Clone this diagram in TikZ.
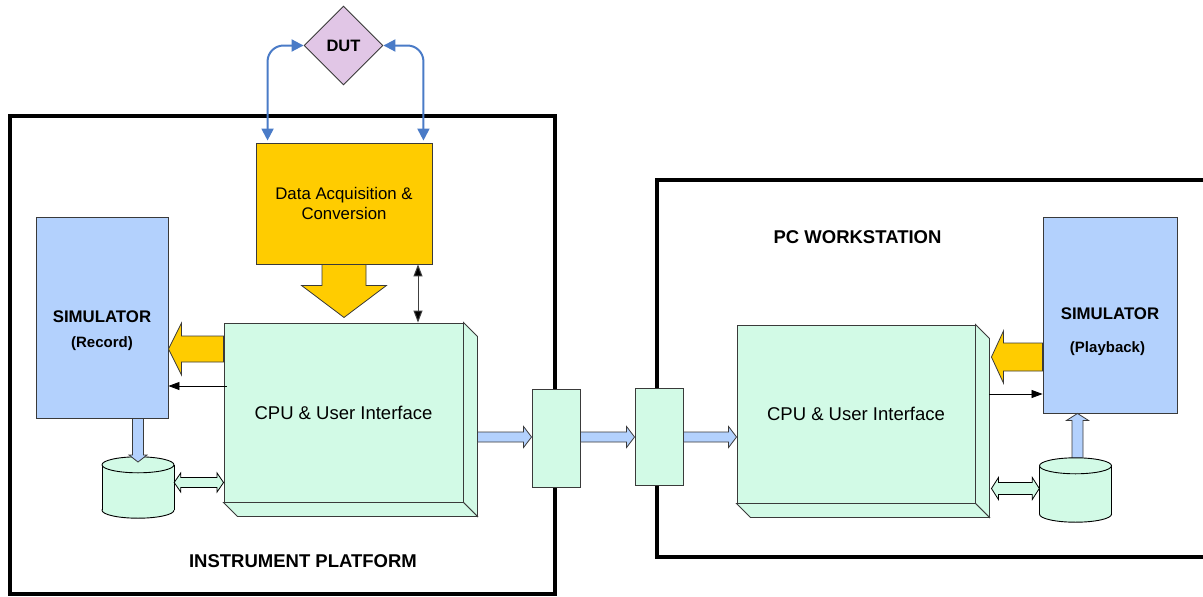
\documentclass[tikz,border=0pt]{standalone}
\usepackage{fontspec}
\setmainfont{Liberation Sans}
\usetikzlibrary{calc,arrows.meta,shapes.geometric}

\definecolor{mint}{HTML}{D2FAE6}
\definecolor{simblue}{HTML}{B3D1FD}
\definecolor{amber}{HTML}{FFCC00}
\definecolor{linkblue}{HTML}{4A7BC7}
\definecolor{lilac}{HTML}{E1C6E6}
\definecolor{edge}{HTML}{3A3A3A}

% block arrow: [style]{tail}{tip}{shaft half}{head half}{head length}
\newcommand\blockarrow[6][]{%
  \coordinate (ba-h) at ($(#3)!#6!(#2)$);
  \draw[#1] ($(#2)!#4!90:(#3)$) -- ($(ba-h)!#4!90:(#3)$) -- ($(ba-h)!#5!90:(#3)$)
    -- (#3) -- ($(ba-h)!#5!-90:(#3)$) -- ($(ba-h)!#4!-90:(#3)$) -- ($(#2)!#4!-90:(#3)$) -- cycle;}

% double-headed block arrow: [style]{end a}{end b}{shaft half}{head half}{head length}
\newcommand\twinarrow[6][]{%
  \coordinate (ta-a) at ($(#2)!#6!(#3)$);
  \coordinate (ta-b) at ($(#3)!#6!(#2)$);
  \draw[#1] (#2) -- ($(ta-a)!#5!90:(#3)$) -- ($(ta-a)!#4!90:(#3)$) -- ($(ta-b)!#4!90:(#3)$)
    -- ($(ta-b)!#5!90:(#3)$) -- (#3) -- ($(ta-b)!#5!-90:(#3)$) -- ($(ta-b)!#4!-90:(#3)$)
    -- ($(ta-a)!#4!-90:(#3)$) -- ($(ta-a)!#5!-90:(#3)$) -- cycle;}

% storage drum drawn inside an invisible node
\newcommand\drum[1]{%
  \path ($(#1.north)+(0,8)$) coordinate (dr-t) ($(#1.south)+(0,-8)$) coordinate (dr-b);
  \filldraw[drumline] (dr-b) ellipse [x radius=36pt, y radius=8pt];
  \fill[mint] ($(dr-t)+(-36,0)$) rectangle ($(dr-b)+(36,0)$);
  \draw[drumline] ($(dr-t)+(-36,0)$) -- ($(dr-b)+(-36,0)$)
                  ($(dr-t)+(36,0)$) -- ($(dr-b)+(36,0)$);
  \filldraw[drumline] (dr-t) ellipse [x radius=36pt, y radius=8pt];}

% extruded box faces for a front-face node
\newcommand\depth[1]{%
  \filldraw[box, fill=mint] (#1.north east) -- ++(14,14) -- ($(#1.south east)+(14,14)$)
     -- (#1.south east) -- cycle;
  \filldraw[box, fill=mint] (#1.south west) -- ++(14,14) -- ($(#1.south east)+(14,14)$)
     -- (#1.south east) -- cycle;}

\tikzset{
  frame/.style={draw=black, line width=3.5pt},
  box/.style={draw=edge, line width=0.9pt, inner sep=0pt},
  drumline/.style={draw=black, line width=0.9pt, fill=mint},
  ghost/.style={inner sep=0pt, draw=none},
  cpu/.style={box, fill=mint, font=\fontsize{18.5}{22}\selectfont},
  sim/.style={box, fill=simblue},
  simtitle/.style={font=\bfseries\fontsize{16.8}{20}\selectfont, inner sep=0pt},
  simsub/.style={font=\bfseries\fontsize{15}{18}\selectfont, inner sep=0pt},
  biglabel/.style={font=\bfseries\fontsize{18.5}{22}\selectfont, inner sep=0pt},
  linkbox/.style={box, fill=mint, minimum width=48, minimum height=98},
  linkarrow/.style={draw=linkblue, line width=2pt, rounded corners=16pt,
     {Triangle[length=12pt,width=12pt]}-{Triangle[length=12pt,width=12pt]}},
  thin/.style={draw=black, line width=0.8pt, -{Triangle[length=11pt,width=8pt]}},
  thintwo/.style={draw=black!75, line width=1pt,
     {Triangle[length=12pt,width=9pt,fill=black]}-{Triangle[length=12pt,width=9pt,fill=black]}},
  amberarrow/.style={draw=edge, line width=0.8pt, fill=amber},
  bluearrow/.style={draw=edge, line width=0.8pt, fill=simblue},
  mintarrow/.style={draw=black, line width=0.8pt, fill=mint},
}

\begin{document}
\begin{tikzpicture}[x=1pt, y=-1pt]
\useasboundingbox (0,0) rectangle (1203,597);

% enclosures
\draw[frame] (10,116) rectangle (555,594);
\draw[frame] (657,180) rectangle (1240,557);
\node[biglabel] (ipl) at (303,561) {INSTRUMENT PLATFORM};
\node[biglabel] (pcl) at (857.5,237) {PC WORKSTATION};

% device under test and acquisition
\node[diamond, draw=edge, line width=0.9pt, fill=lilac, minimum width=79, minimum height=79,
      inner sep=0pt, font=\bfseries\fontsize{16.5}{20}\selectfont] (dut) at (343.5,45.5) {DUT};
\node[box, fill=amber, minimum width=176, minimum height=121, align=center,
      font=\fontsize{16.8}{20}\selectfont] (daq) at (344,203.5) {Data Acquisition \&\\Conversion};
\draw[linkarrow, shorten >=2pt] (dut.west) -| ($(daq.north west)+(12,0)$);
\draw[linkarrow, shorten >=2pt] (dut.east) -| ($(daq.north east)+(-9,0)$);

% instrument side
\node[cpu, minimum width=239, minimum height=179] (cpuL) at (343.5,412.5) {CPU \& User Interface};
\depth{cpuL}
\node[sim, minimum width=132, minimum height=201] (simL) at (102,317.5) {};
\node[simtitle] (simLt) at (102,317) {SIMULATOR};
\node[simsub] (simLs) at (102,344) {(Record)};
\node[ghost, minimum width=72, minimum height=61] (dbL) at (138,487.5) {};
\drum{dbL}

\blockarrow[amberarrow]{daq.south}{$(daq.south)+(0,53)$}{22pt}{42.5pt}{32pt}
\draw[thintwo] (daq.south -| 418,0) -- (cpuL.north -| 418,0);
\blockarrow[amberarrow]{cpuL.west |- 0,349}{simL.east |- 0,349}{13pt}{26pt}{13pt}
\draw[thin] ($(cpuL.west |- 0,386)+(3,0)$) -- (simL.east |- 0,386);
\blockarrow[bluearrow]{dbL.center |- simL.south}{dbL.center |- 0,462}{5.5pt}{9pt}{7pt}
\twinarrow[mintarrow]{dbL.east |- 0,482.5}{cpuL.west |- 0,482.5}{5pt}{9.5pt}{6.5pt}

% link modules
\node[linkbox] (box1) at (556,438) {};
\node[linkbox, minimum height=97] (box2) at (659,436.5) {};

% workstation side
\node[cpu, minimum width=238, minimum height=178] (cpuR) at (856,414) {CPU \& User Interface};
\depth{cpuR}
\node[sim, minimum width=134, minimum height=196] (simR) at (1110,315) {};
\node[simtitle] (simRt) at (1110,314) {SIMULATOR};
\node[simsub] (simRs) at (1107.5,349) {(Playback)};
\node[ghost, minimum width=72, minimum height=64] (dbR) at (1075.5,490) {};

\blockarrow[bluearrow]{1077.5,462}{simR.south -| 1077.5,0}{5.5pt}{11pt}{7pt}
\drum{dbR}
\blockarrow[amberarrow]{simR.west |- 0,357}{$(cpuR.east |- 0,357)+(16,0)$}{14pt}{26pt}{12pt}
\draw[thin] ($(cpuR.east |- 0,394)+(14,0)$) -- (simR.west |- 0,394);
\twinarrow[mintarrow]{$(cpuR.east |- 0,488.5)+(16,0)$}{dbR.west |- 0,488.5}{6pt}{11pt}{7pt}

% data path between the two platforms
\blockarrow[bluearrow]{$(cpuL.east |- 0,437)+(14,0)$}{box1.west |- 0,437}{5pt}{10.5pt}{8pt}
\blockarrow[bluearrow]{box1.east |- 0,437}{box2.west |- 0,437}{5pt}{10.5pt}{8pt}
\blockarrow[bluearrow]{box2.east |- 0,437}{cpuR.west |- 0,437}{5pt}{10.5pt}{8pt}
\end{tikzpicture}
\end{document}
